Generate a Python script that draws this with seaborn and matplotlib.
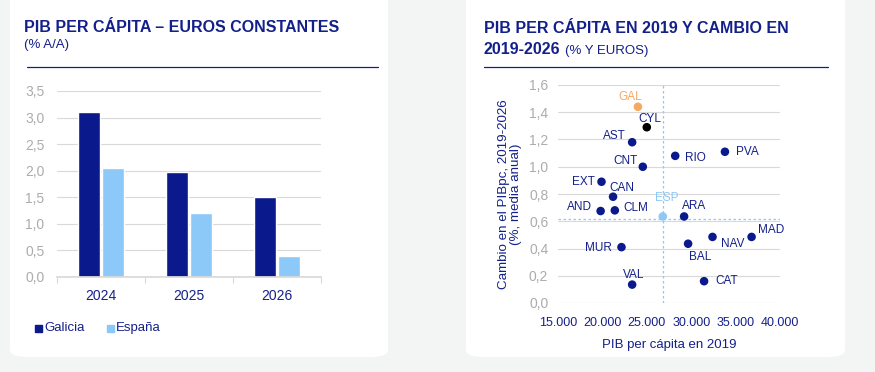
import matplotlib
matplotlib.use("Agg")
import matplotlib.pyplot as plt
from matplotlib.patches import FancyBboxPatch
from matplotlib.ticker import FixedLocator, FuncFormatter, MultipleLocator
import pandas as pd
import seaborn as sns

# --- data -------------------------------------------------------------
years = ["2024", "2025", "2026"]
galicia = [3.1, 1.97, 1.5]
espana = [2.05, 1.2, 0.4]

regions = ["GAL", "CYL", "AST", "RIO", "PVA", "CNT", "EXT", "CAN", "AND",
           "CLM", "ESP", "ARA", "MAD", "NAV", "BAL", "MUR", "CAT", "VAL"]
pib_2019 = [24000, 25000, 23350, 28200, 33800, 24550, 19900, 21200, 19800,
            21400, 26800, 29200, 36800, 32400, 29650, 22150, 31450, 23350]
cambio = [1.44, 1.29, 1.18, 1.08, 1.11, 1.00, 0.89, 0.78, 0.675,
          0.68, 0.635, 0.635, 0.485, 0.485, 0.435, 0.41, 0.16, 0.135]

NAVY = "#0a1a8c"
LIGHT = "#8cc8f8"
ORANGE = "#f5a962"
TITLE = "#14208a"
GREY_TXT = "#acacac"
GRID = "#d9d9d9"
BG = "#f3f5f5"

# label placement (dx, dy in pixels, horizontal alignment)
label_pos = {
    "GAL": (-8, 10, "center"), "CYL": (3, 8, "center"), "AST": (-6, 6, "right"),
    "RIO": (10, -2, "left"), "PVA": (11, 0, "left"), "CNT": (-5, 6, "right"),
    "EXT": (-7, 0, "right"), "CAN": (-4, 9, "left"), "AND": (-9, 4, "right"),
    "CLM": (9, 2, "left"), "ESP": (4, 18, "center"), "ARA": (-2, 10, "left"),
    "MAD": (6, 7, "left"), "NAV": (8, -7, "left"), "BAL": (1, -13, "left"),
    "MUR": (-10, -1, "right"), "CAT": (11, 0, "left"), "VAL": (1, 10, "center"),
}

sns.set_theme(style="white")
plt.rcParams["font.family"] = ["Liberation Sans", "DejaVu Sans"]

fig = plt.figure(figsize=(8.75, 3.72), dpi=100)
fig.patch.set_facecolor(BG)
W, H = 875, 372


def fx(px):
    return px / W


def fy(py):
    return 1 - py / H


# white panels (behind the axes)
for x0, x1 in [(10, 388), (466, 845)]:
    fig.patches.append(FancyBboxPatch(
        (fx(x0), fy(357)), fx(x1 - x0), (357 + 12) / H,
        boxstyle="round,pad=0,rounding_size=0.02", transform=fig.transFigure,
        facecolor="white", edgecolor="none", zorder=-5))

# titles
fig.text(fx(24), fy(32), "PIB PER CÁPITA – EUROS CONSTANTES", color=TITLE,
         fontsize=11.5, fontweight="bold", va="baseline")
fig.text(fx(24), fy(48), "(% A/A)", color=TITLE, fontsize=9.5, va="baseline")
fig.add_artist(plt.Line2D([fx(27), fx(378)], [fy(67), fy(67)], color=TITLE,
                          lw=0.9, transform=fig.transFigure))

fig.text(fx(484), fy(33), "PIB PER CÁPITA EN 2019 Y CAMBIO EN", color=TITLE,
         fontsize=11.5, fontweight="bold", va="baseline")
fig.text(fx(484), fy(54), "2019-2026", color=TITLE, fontsize=11.5,
         fontweight="bold", va="baseline")
fig.text(fx(565), fy(54), "(% Y EUROS)", color=TITLE, fontsize=9.5, va="baseline")
fig.add_artist(plt.Line2D([fx(484), fx(828)], [fy(67), fy(67)], color=TITLE,
                          lw=0.9, transform=fig.transFigure))

comma = FuncFormatter(lambda v, p: f"{v:.1f}".replace(".", ","))
thousands = FuncFormatter(lambda v, p: f"{v:,.0f}".replace(",", "."))

# --- bar chart --------------------------------------------------------
ax1 = fig.add_axes([fx(57), fy(277), fx(321 - 57), (277 - 91) / H])
bars = pd.DataFrame({
    "year": years * 2,
    "value": galicia + espana,
    "serie": ["Galicia"] * 3 + ["España"] * 3,
})
sns.barplot(data=bars, x="year", y="value", hue="serie", ax=ax1,
            palette=[NAVY, LIGHT], width=0.55, gap=0.1, saturation=1,
            legend=False)
ax1.set_ylim(0, 3.5)
ax1.set_xlim(-0.5, len(years) - 0.5)
ax1.yaxis.set_major_locator(MultipleLocator(0.5))
ax1.yaxis.set_major_formatter(comma)
ax1.xaxis.set_minor_locator(FixedLocator([i - 0.5 for i in range(len(years) + 1)]))
ax1.grid(axis="y", color=GRID, lw=0.8)
ax1.set_axisbelow(True)
ax1.set_xlabel("")
ax1.set_ylabel("")
ax1.tick_params(axis="y", colors=GREY_TXT, labelsize=10, length=0, pad=9)
ax1.tick_params(axis="x", labelcolor=TITLE, labelsize=10, length=0, pad=9)
ax1.tick_params(axis="x", which="minor", bottom=True, length=4, width=0.8,
                color=GRID, direction="out")
for s in ["top", "right", "left"]:
    ax1.spines[s].set_visible(False)
ax1.spines["bottom"].set_color(GRID)
ax1.set_facecolor("white")

# legend
for xs, lab, c in [(35, "Galicia", NAVY), (107, "España", LIGHT)]:
    fig.patches.append(plt.Rectangle((fx(xs), fy(332)), fx(7), 7 / H,
                                     color=c, transform=fig.transFigure))
    fig.text(fx(xs + 9), fy(328), lab, color=TITLE, fontsize=9.5, va="center")

# --- scatter ----------------------------------------------------------
ax2 = fig.add_axes([fx(558), fy(303), fx(780 - 558), (303 - 85) / H])
pts = pd.DataFrame({"region": regions, "pib": pib_2019, "cambio": cambio})
colors = {r: NAVY for r in regions}
colors.update({"GAL": ORANGE, "CYL": "black", "ESP": LIGHT})
esp = pts[pts.region == "ESP"].iloc[0]
ax2.axvline(esp.pib, color=LIGHT, lw=0.9, ls=(0, (2, 2)), zorder=1)
ax2.axhline(esp.cambio - 0.015, color=LIGHT, lw=0.9, ls=(0, (2, 2)), zorder=1)
sns.scatterplot(data=pts, x="pib", y="cambio", hue="region", palette=colors,
                s=38, edgecolor="none", legend=False, ax=ax2, zorder=3)
for r, xv, yv in zip(regions, pib_2019, cambio):
    dx, dy, ha = label_pos[r]
    c = colors[r] if r in ("GAL", "ESP") else TITLE
    ax2.annotate(r, (xv, yv), xytext=(dx * 0.72, dy * 0.72),
                 textcoords="offset points", ha=ha, va="center",
                 fontsize=8.5, color=c)
ax2.set_xlim(15000, 40000)
ax2.set_ylim(0, 1.6)
ax2.xaxis.set_major_locator(MultipleLocator(5000))
ax2.yaxis.set_major_locator(MultipleLocator(0.2))
ax2.xaxis.set_major_formatter(thousands)
ax2.yaxis.set_major_formatter(comma)
ax2.grid(axis="y", color=GRID, lw=0.8)
ax2.set_axisbelow(True)
for s in ["top", "right", "left", "bottom"]:
    ax2.spines[s].set_visible(False)
ax2.tick_params(axis="y", colors=GREY_TXT, labelsize=10, length=0, pad=7)
ax2.tick_params(axis="x", labelcolor=TITLE, labelsize=9, length=0, pad=10)
ax2.set_xlabel("PIB per cápita en 2019", color=TITLE, fontsize=9.5, labelpad=7)
ax2.set_ylabel("Cambio en el PIBpc, 2019-2026\n(%, media anual)", color=TITLE,
               fontsize=9.6, labelpad=5, linespacing=1.0)
ax2.set_facecolor("white")

fig.savefig("out.png", dpi=100, facecolor=BG)
